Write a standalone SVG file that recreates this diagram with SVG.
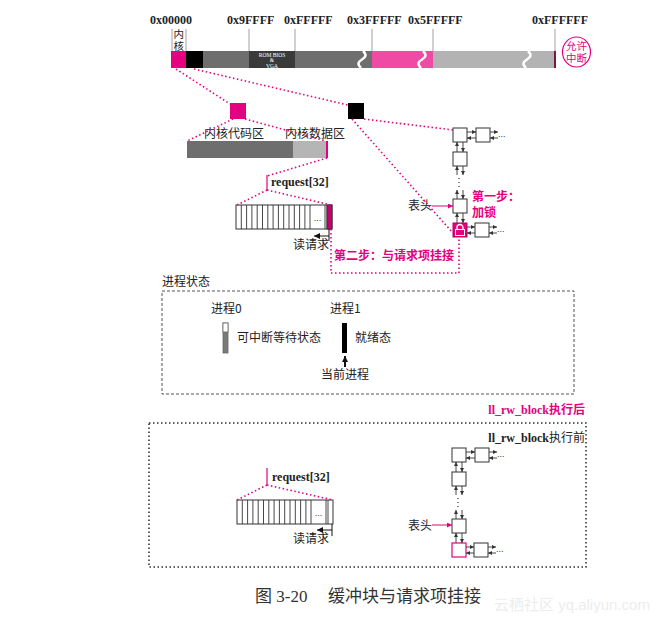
<svg xmlns="http://www.w3.org/2000/svg" width="661" height="620" viewBox="0 0 661 620">
<style>
.hex{font-family:"Liberation Serif",serif;font-weight:bold;font-size:12px;fill:#222}
.cj{font-family:"Noto Sans CJK SC",sans-serif;font-size:12px;fill:#222}
.cjs{font-family:"Liberation Sans","Noto Sans CJK SC",sans-serif;font-size:10.5px}
.cjp{font-family:"Noto Sans CJK SC",sans-serif;font-size:12px;fill:#e5007f;font-weight:bold}
.req{font-family:"Liberation Serif",serif;font-weight:bold;font-size:12px;fill:#222}
.pdot{fill:none;stroke:#e5007f;stroke-width:1.6;stroke-dasharray:1.5 2.5}
.node{fill:#fff;stroke:#333;stroke-width:1}
.ar{stroke:#333;stroke-width:0.9;fill:none;marker-end:url(#ah)}
.tick{stroke:#888;stroke-width:0.8}
.brk{fill:none;stroke:#fff;stroke-width:2.5}
</style>
<defs>
<marker id="ah" markerUnits="userSpaceOnUse" markerWidth="4" markerHeight="4" refX="4" refY="2" orient="auto"><path d="M0,0 L4,2 L0,4 z" fill="#333"/></marker>
<marker id="ahp" markerUnits="userSpaceOnUse" markerWidth="5" markerHeight="5" refX="5" refY="2.5" orient="auto"><path d="M0,0 L5,2.5 L0,5 z" fill="#e5007f"/></marker>
<marker id="ahb" markerUnits="userSpaceOnUse" markerWidth="6" markerHeight="6" refX="6" refY="3" orient="auto"><path d="M0,0 L6,3 L0,6 z" fill="#111"/></marker>
<g id="arr">
<rect x="0" y="0" width="96" height="24" fill="#fff" stroke="#333" stroke-width="1"/>
<path d="M5.3,0V24M10.6,0V24M15.9,0V24M21.2,0V24M26.5,0V24M31.8,0V24M37.1,0V24M42.4,0V24M47.7,0V24M53,0V24M58.3,0V24M63.6,0V24M68.9,0V24M74,0V24M89,0V24M91,0V24" stroke="#333" stroke-width="0.9"/>
<text x="81.5" y="16" font-family="Liberation Sans,sans-serif" font-size="9" text-anchor="middle" fill="#333">...</text>
</g>
</defs>

<!-- memory map -->
<g id="memmap">
<line class="tick" x1="172" y1="29" x2="172" y2="51"/>
<line class="tick" x1="186" y1="29" x2="186" y2="51"/>
<line class="tick" x1="249" y1="29" x2="249" y2="51"/>
<line class="tick" x1="295" y1="29" x2="295" y2="51"/>
<line class="tick" x1="372" y1="29" x2="372" y2="51"/>
<line class="tick" x1="433" y1="29" x2="433" y2="51"/>
<line class="tick" x1="555" y1="29" x2="555" y2="51"/>
<text class="hex" x="150" y="24">0x00000</text>
<text class="hex" x="227" y="24">0x9FFFF</text>
<text class="hex" x="284" y="24">0xFFFFF</text>
<text class="hex" x="347" y="24">0x3FFFFF</text>
<text class="hex" x="408" y="24">0x5FFFFF</text>
<text class="hex" x="532" y="24">0xFFFFFF</text>
<text class="cjs" x="173.5" y="38" fill="#222">内</text>
<text class="cjs" x="173.5" y="50" fill="#222">核</text>
<rect x="171" y="51" width="15" height="17" fill="#e5007f"/>
<rect x="186" y="51" width="17" height="17" fill="#000"/>
<rect x="203" y="51" width="46" height="17" fill="#6e6e6e"/>
<rect x="249" y="51" width="46" height="17" fill="#3a3a3a"/>
<rect x="295" y="51" width="77" height="17" fill="#6e6e6e"/>
<rect x="372" y="51" width="61" height="17" fill="#ef4aa4"/>
<rect x="433" y="51" width="121" height="17" fill="#b3b3b3"/>
<rect x="554" y="51" width="2" height="17" fill="#7a1a3a"/>
<path class="brk" d="M363,51 C367,55 366,57 362,59.5 C358,62 357,64 361,68"/>
<path class="brk" d="M423,51 C427,55 426,57 422,59.5 C418,62 417,64 421,68"/>
<path class="brk" d="M528,51 C532,55 531,57 527,59.5 C523,62 522,64 526,68"/>
<text font-family="Liberation Serif,serif" font-size="5.5" fill="#fff" text-anchor="middle"><tspan x="272" y="57">ROM BIOS</tspan><tspan x="272" y="62">&amp;</tspan><tspan x="272" y="67.5">VGA</tspan></text>
</g>

<g id="intr">
<ellipse cx="576.5" cy="52" rx="14" ry="15" fill="#fff" stroke="#e5007f" stroke-width="1.2"/>
<text class="cjs" x="576.5" y="50" text-anchor="middle" fill="#e5007f">允许</text>
<text class="cjs" x="576.5" y="62" text-anchor="middle" fill="#e5007f">中断</text>
</g>

<g id="sqPink"><rect x="230" y="103" width="16" height="16" fill="#e5007f"/></g>
<g id="sqBlack"><rect x="348" y="103" width="16" height="16" fill="#000"/></g>

<g id="kernelBar">
<rect x="187" y="141" width="106" height="17" fill="#6e6e6e"/>
<rect x="293" y="141" width="33" height="17" fill="#b5b5b5"/>
<rect x="326" y="141" width="2" height="17" fill="#e5007f"/>
<text class="cj" x="204" y="138">内核代码区</text>
<text class="cj" x="285" y="138">内核数据区</text>
</g>

<g id="reqTop">
<line x1="267" y1="175" x2="267" y2="190" stroke="#e5007f" stroke-width="1.2"/>
<text class="req" x="271" y="186">request[32]</text>
<use href="#arr" x="236" y="205"/>
<rect x="327" y="205" width="5" height="24" fill="#c8006e" stroke="#333" stroke-width="0.9"/>
<text class="cj" x="293" y="249">读请求</text>
</g>

<!-- top linked list -->
<g id="listTop">
<g id="nA"><rect class="node" x="453" y="128" width="14" height="14"/></g>
<g id="nB"><rect class="node" x="476" y="128" width="14" height="14"/></g>
<g id="nC"><rect class="node" x="453" y="152" width="14" height="14"/></g>
<g id="nD"><rect class="node" x="453" y="199" width="14" height="14"/></g>
<g id="nE"><rect x="453" y="223" width="14" height="14" fill="#e5007f" stroke="#b0005f" stroke-width="1"/>
<path d="M457,230 V227.5 A3,3 0 0 1 463,227.5 V230" fill="none" stroke="#fff" stroke-width="1.3"/>
<rect x="455.5" y="229.5" width="9" height="6" fill="#e5007f" stroke="#fff" stroke-width="1"/></g>
<g id="nF"><rect class="node" x="475" y="223" width="14" height="14"/></g>
<text x="498" y="137" font-family="Liberation Sans,sans-serif" font-size="9" fill="#333">...</text>
<text x="497" y="232" font-family="Liberation Sans,sans-serif" font-size="9" fill="#333">...</text>
<path d="M459,178v1M459,182v1M459,186v1" stroke="#333" stroke-width="1.2"/>
<text class="cj" x="408" y="210">表头</text>
<text class="cjp" x="472" y="201">第一步：</text>
<text class="cjp" x="472" y="217">加锁</text>
</g>

<g id="processState">
<text class="cj" x="162" y="286">进程状态</text>
<rect x="162" y="291" width="412" height="103" fill="none" stroke="#555" stroke-width="1" stroke-dasharray="3 2"/>
<text class="cj" x="211" y="313">进程0</text>
<text class="cj" x="330" y="313">进程1</text>
<g id="p0"><rect x="223" y="323" width="5" height="30" fill="#7a7a7a" stroke="#666" stroke-width="0.8"/><rect x="223" y="323" width="5" height="9" fill="#fff" stroke="#666" stroke-width="0.8"/></g>
<text class="cj" x="237" y="342">可中断等待状态</text>
<g id="p1"><rect x="342" y="323" width="5" height="30" fill="#000"/></g>
<text class="cj" x="355" y="342">就绪态</text>
<text class="cj" x="321" y="379">当前进程</text>
</g>

<g id="bottomSection">
<text class="cjp" x="585" y="414" text-anchor="end"><tspan font-family="Liberation Serif,serif">ll_rw_block</tspan>执行后</text>
<rect x="149" y="423" width="437" height="144" fill="none" stroke="#333" stroke-width="1.6" stroke-dasharray="1.5 2.5"/>
<text class="cj" x="585" y="442" text-anchor="end"><tspan font-family="Liberation Serif,serif" font-weight="bold">ll_rw_block</tspan>执行前</text>
<line x1="267" y1="468" x2="267" y2="485" stroke="#e5007f" stroke-width="1.2"/>
<text class="req" x="272" y="481">request[32]</text>
<use href="#arr" x="237" y="500"/>
<text class="cj" x="293" y="543">读请求</text>
</g>

<g id="listBottom">
<g id="bA"><rect class="node" x="452" y="448" width="14" height="14"/></g>
<g id="bB"><rect class="node" x="475" y="448" width="14" height="14"/></g>
<g id="bC"><rect class="node" x="452" y="472" width="14" height="14"/></g>
<g id="bD"><rect class="node" x="452" y="519" width="14" height="14"/></g>
<g id="bE"><rect x="452" y="543" width="14" height="14" fill="#fff" stroke="#e5007f" stroke-width="1.2"/></g>
<g id="bF"><rect class="node" x="474" y="543" width="14" height="14"/></g>
<text x="497" y="457" font-family="Liberation Sans,sans-serif" font-size="9" fill="#333">...</text>
<text x="496" y="552" font-family="Liberation Sans,sans-serif" font-size="9" fill="#333">...</text>
<path d="M458,498v1M458,502v1M458,506v1" stroke="#333" stroke-width="1.2"/>
<text class="cj" x="408" y="530">表头</text>
</g>

<g id="connectors">
<path class="pdot" d="M176,69 L230,104"/>
<path class="pdot" d="M194,69 L348,105"/>
<path class="pdot" d="M233,119 L187,141"/>
<path class="pdot" d="M245,119 L326,141"/>
<path class="pdot" d="M327,158 L267,176"/>
<path class="pdot" d="M267,190 L237,205"/>
<path class="pdot" d="M267,190 L331,205"/>
<path class="pdot" d="M364,119 L453,130"/>
<path class="pdot" d="M352,119 L452,232"/>
<path class="pdot" d="M331,229 V273 H459 V237"/>
<path class="pdot" d="M267,485 L237,500"/>
<path class="pdot" d="M267,485 L333,500"/>
<text class="cjp" x="334" y="260">第二步：与请求项挂接</text>
<path d="M329,229 V241" stroke="#111" stroke-width="1"/>
<path d="M329,236 H314" stroke="#111" stroke-width="1" marker-end="url(#ahb)"/>
<path d="M332,524 V536" stroke="#111" stroke-width="1"/>
<path d="M332,530 H317" stroke="#111" stroke-width="1" marker-end="url(#ahb)"/>
<path d="M345,367 V356" stroke="#111" stroke-width="2" marker-end="url(#ahb)"/>
<path d="M432,206 H453" stroke="#e5007f" stroke-width="1" marker-end="url(#ahp)"/>
<path d="M432,525 H452" stroke="#e5007f" stroke-width="1" marker-end="url(#ahp)"/>
<g id="linksTop">
<path class="ar" d="M467,132 H476"/><path class="ar" d="M476,138 H467"/>
<path class="ar" d="M490,132 H498"/><path class="ar" d="M498,138 H490"/>
<path class="ar" d="M457,152 V142"/><path class="ar" d="M463,142 V152"/>
<path class="ar" d="M457,175 V166"/><path class="ar" d="M463,166 V175"/>
<path class="ar" d="M457,199 V190"/><path class="ar" d="M463,190 V199"/>
<path class="ar" d="M457,223 V213"/><path class="ar" d="M463,213 V223"/>
<path class="ar" d="M467,227 H475"/><path class="ar" d="M475,233 H467"/>
<path class="ar" d="M489,227 H497"/><path class="ar" d="M497,233 H489"/>
</g>
<g id="linksBottom" transform="translate(-1,320)">
<path class="ar" d="M467,132 H476"/><path class="ar" d="M476,138 H467"/>
<path class="ar" d="M490,132 H498"/><path class="ar" d="M498,138 H490"/>
<path class="ar" d="M457,152 V142"/><path class="ar" d="M463,142 V152"/>
<path class="ar" d="M457,175 V166"/><path class="ar" d="M463,166 V175"/>
<path class="ar" d="M457,199 V190"/><path class="ar" d="M463,190 V199"/>
<path class="ar" d="M457,223 V213"/><path class="ar" d="M463,213 V223"/>
<path class="ar" d="M467,227 H475"/><path class="ar" d="M475,233 H467"/>
<path class="ar" d="M489,227 H497"/><path class="ar" d="M497,233 H489"/>
</g>
</g>

<g id="caption">
<text x="255" y="602" font-family="Liberation Serif,'Noto Sans CJK SC',serif" font-size="17" fill="#333">图 3-20<tspan x="328">缓冲块与请求项挂接</tspan></text>
<text x="494" y="610" font-family="'Liberation Sans','Noto Sans CJK SC',sans-serif" font-size="15" fill="#ededed">云栖社区 yq.aliyun.com</text>
</g>
</svg>
